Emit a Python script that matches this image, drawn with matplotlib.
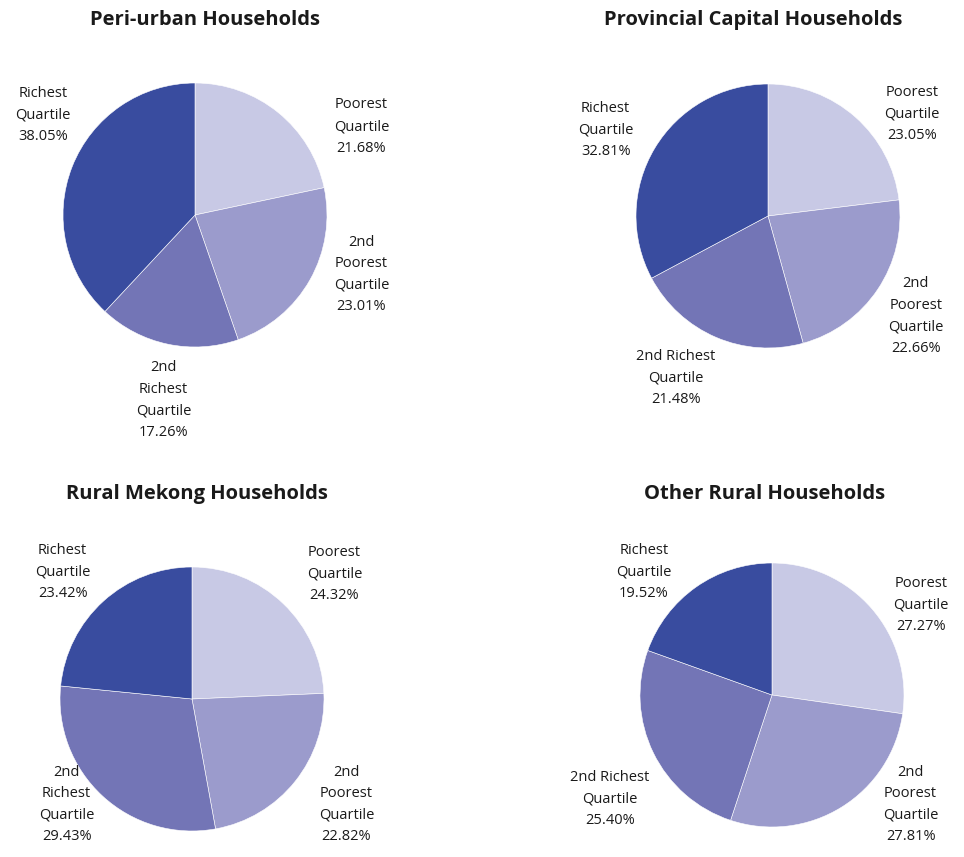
import matplotlib.pyplot as plt

plt.rcParams['font.family'] = ['Open Sans', 'DejaVu Sans']

# Data (shares in %), order: Poorest, 2nd Poorest, 2nd Richest, Richest
titles = ['Peri-urban Households', 'Provincial Capital Households',
          'Rural Mekong Households', 'Other Rural Households']
peri_urban = [21.68, 23.01, 17.26, 38.05]
provincial = [23.05, 22.66, 21.48, 32.81]
rural_mekong = [24.32, 22.82, 29.43, 23.42]
other_rural = [27.27, 27.81, 25.40, 19.52]
all_values = [peri_urban, provincial, rural_mekong, other_rural]

label_names = [
    ['Poorest\nQuartile', '2nd\nPoorest\nQuartile', '2nd\nRichest\nQuartile', 'Richest\nQuartile'],
    ['Poorest\nQuartile', '2nd\nPoorest\nQuartile', '2nd Richest\nQuartile', 'Richest\nQuartile'],
    ['Poorest\nQuartile', '2nd\nPoorest\nQuartile', '2nd\nRichest\nQuartile', 'Richest\nQuartile'],
    ['Poorest\nQuartile', '2nd\nPoorest\nQuartile', '2nd Richest\nQuartile', 'Richest\nQuartile'],
]

colors = ['#c8c9e5', '#9b9bcc', '#7375b6', '#394c9f']

# Layout (pixels in a 964x857 figure)
W, H = 964, 857
pie_centers = [(195, 215), (768, 216), (192, 699), (772, 695)]
radius_px = 132
title_pos = [(205, 20), (753, 20), (197, 494), (765, 494)]
label_pos = [
    [(1.26, 0.67), (1.26, -0.45), (-0.24, -1.40), (-1.15, 0.76)],
    [(1.09, 0.77), (1.12, -0.76), (-0.70, -1.23), (-1.23, 0.65)],
    [(1.08, 0.95), (1.17, -0.80), (-0.95, -0.80), (-0.98, 0.96)],
    [(1.13, 0.68), (1.05, -0.83), (-1.23, -0.79), (-0.97, 0.93)],
]

fig = plt.figure(figsize=(W / 100, H / 100), dpi=100)

for i, values in enumerate(all_values):
    cx, cy = pie_centers[i]
    ax = fig.add_axes([(cx - radius_px) / W, 1 - (cy + radius_px) / H,
                       2 * radius_px / W, 2 * radius_px / H])
    ax.pie(values, colors=colors, startangle=90, counterclock=False,
           radius=1, wedgeprops=dict(edgecolor='white', linewidth=0.4))
    ax.set_xlim(-1, 1)
    ax.set_ylim(-1, 1)
    ax.set_aspect('equal')
    ax.axis('off')
    for name, v, (lx, ly) in zip(label_names[i], values, label_pos[i]):
        ax.text(lx, ly, f'{name}\n{v:.2f}%', ha='center', va='center',
                fontsize=10.5, color='#1a1a1a', linespacing=1.6, clip_on=False)
    tx, ty = title_pos[i]
    fig.text(tx / W, 1 - ty / H, titles[i], ha='center', va='center',
             fontsize=14.5, fontweight='bold', color='#1a1a1a')

fig.savefig('out.png', dpi=100)
